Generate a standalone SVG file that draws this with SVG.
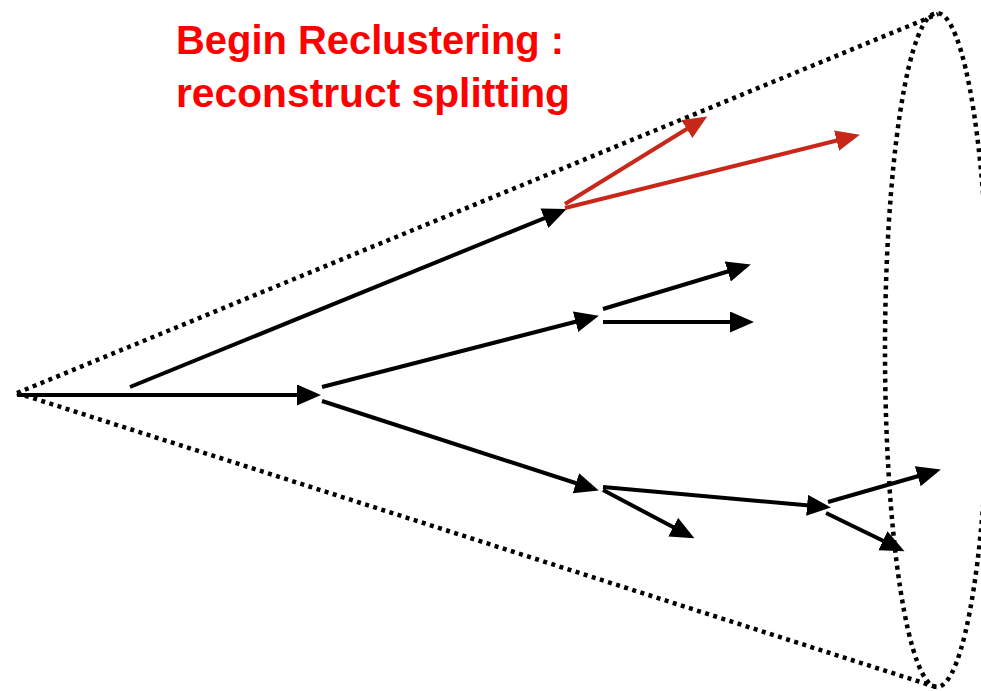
<svg xmlns="http://www.w3.org/2000/svg" width="981" height="691" viewBox="0 0 981 691">
<style>
.cone{fill:none;stroke:#000;stroke-width:4.5;stroke-dasharray:4 4.5}
.arr{stroke:#000;stroke-width:4;fill:none;marker-end:url(#ah)}
.red{stroke:#c8281a;stroke-width:4;fill:none;marker-end:url(#ahr)}
.title{font-family:"Liberation Sans",Arial,sans-serif;font-weight:bold;font-size:41px;fill:#ff0000}
</style>
<defs>
<marker id="ah" markerUnits="userSpaceOnUse" markerWidth="25" markerHeight="23" refX="19" refY="10.5" orient="auto">
<path d="M0,0 L24,10.5 L0,21 z" fill="#000"/>
</marker>
<marker id="ahr" markerUnits="userSpaceOnUse" markerWidth="25" markerHeight="23" refX="19" refY="10.5" orient="auto">
<path d="M0,0 L24,10.5 L0,21 z" fill="#c8281a"/>
</marker>
</defs>
<rect width="981" height="691" fill="#fff"/>
<g id="cone">
<line class="cone" x1="17" y1="393" x2="938" y2="14"/>
<line class="cone" x1="17" y1="393" x2="936" y2="687"/>
<ellipse class="cone" cx="937" cy="350" rx="52" ry="337"/>
</g>
<g id="label">
<text class="title" x="176" y="54" textLength="388" lengthAdjust="spacingAndGlyphs">Begin Reclustering :</text>
<text class="title" x="176" y="107" textLength="394" lengthAdjust="spacingAndGlyphs">reconstruct splitting</text>
</g>
<g id="connectors">
<line class="arr" x1="17" y1="395" x2="316" y2="395"/>
<line class="arr" x1="130" y1="387" x2="562" y2="211"/>
<line class="arr" x1="322" y1="387" x2="594" y2="317"/>
<line class="arr" x1="322" y1="401" x2="594" y2="489"/>
<line class="arr" x1="603" y1="309" x2="746" y2="266"/>
<line class="arr" x1="603" y1="322" x2="749" y2="322"/>
<line class="arr" x1="603" y1="487" x2="826" y2="507"/>
<line class="arr" x1="603" y1="490" x2="690" y2="536"/>
<line class="arr" x1="828" y1="502" x2="936" y2="471"/>
<line class="arr" x1="826" y1="513" x2="900" y2="549"/>
<line class="red" x1="565" y1="204" x2="703" y2="119"/>
<line class="red" x1="565" y1="208" x2="855" y2="136"/>
</g>
</svg>
